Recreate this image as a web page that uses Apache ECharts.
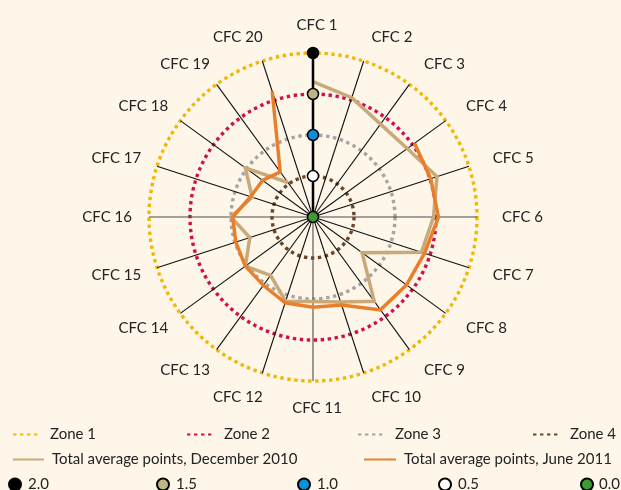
<!DOCTYPE html>
<html>
<head>
<meta charset="utf-8">
<style>
  html, body { margin: 0; padding: 0; background: #fdf6e9; }
  #chart { width: 621px; height: 490px; }
</style>
<script src="https://cdn.jsdelivr.net/npm/echarts@6/dist/echarts.min.js"></script>
</head>
<body>
<div id="chart"></div>
<script>
// Assessment categories, clockwise from the top
const categories = ['CFC 1', 'CFC 2', 'CFC 3', 'CFC 4', 'CFC 5', 'CFC 6', 'CFC 7', 'CFC 8', 'CFC 9', 'CFC 10',
  'CFC 11', 'CFC 12', 'CFC 13', 'CFC 14', 'CFC 15', 'CFC 16', 'CFC 17', 'CFC 18', 'CFC 19', 'CFC 20'];

// Total average points per category (null = not assessed)
const dec2010 = [1.65, 1.53, 1.40, 1.42, 1.59, 1.47, 1.39, 0.74, 1.27, 1.09,
  1.03, 1.08, 0.88, 1.02, 0.81, 1.00, 0.78, 1.02, 0.52, null];
const jun2011 = [null, null, null, 1.53, 1.51, 1.53, 1.43, 1.41, 1.40, 1.13,
  1.10, 1.10, 1.03, 1.02, 0.99, 0.98, 0.80, 0.76, 0.68, 1.61];

// Zone boundaries
const zoneNames = ['Zone 1', 'Zone 2', 'Zone 3', 'Zone 4'];
const zoneLevels = [2.0, 1.5, 1.0, 0.5];

// Scale markers on the first spoke
const markerLabels = ['2.0', '1.5', '1.0', '0.5', '0.0'];
const markerLevels = [2.0, 1.5, 1.0, 0.5, 0.0];

const radiusMax = 2;
const levelStep = 0.5;

// Styling
const zoneColors = ['#f2b705', '#d20f4a', '#a5a5a5', '#6b4429'];
const markerColors = ['#000000', '#bdb582', '#0b90d6', '#ffffff', '#3f9a35'];
const decColor = '#c9a978';
const junColor = '#e97f2b';
const textColor = '#232323';
const font = 'Lato';
const dotDash = [3.4, 3.6];

const CX = 313, CY = 217, R = 164;

// Ring colours follow the radius ticks (0, 0.5, ... 2.0)
const ringColors = [];
for (let v = 0; v <= radiusMax + 1e-9; v += levelStep) {
  const idx = zoneLevels.findIndex(z => Math.abs(z - v) < 1e-9);
  ringColors.push(idx < 0 ? 'rgba(0,0,0,0)' : zoneColors[idx]);
}
// Spoke colours: the four main directions are drawn in dark grey
const spokeColors = categories.map((c, i) => (i % 5 === 0 ? '#4d4d4d' : '#111111'));

// Radar indicators run counter-clockwise, so list them in reverse after the first
const order = [0].concat(categories.map((c, i) => i).slice(1).reverse());

function nameRadar(cx, gap, keep) {
  return {
    center: [cx, CY],
    radius: R,
    startAngle: 90,
    shape: 'circle',
    nameGap: gap,
    indicator: order.map(i => ({ name: keep(i) ? categories[i] : '', max: radiusMax })),
    axisName: { color: textColor, fontFamily: font, fontSize: 15 },
    axisLine: { show: false },
    axisTick: { show: false },
    axisLabel: { show: false },
    splitLine: { show: false },
    splitArea: { show: false },
    silent: true
  };
}

function legendItem(name, left, top, w, h, pad, lineOnly) {
  const item = {
    data: [name],
    left: left,
    top: top,
    itemWidth: w,
    itemHeight: h,
    padding: 0,
    selectedMode: false,
    textStyle: { fontFamily: font, fontSize: 15, color: textColor, padding: [0, 0, 0, pad] }
  };
  if (lineOnly) {
    // keep just the stroke in the key, no symbol
    item.itemStyle = { opacity: 0 };
    item.lineStyle = { opacity: 1 };
  }
  return item;
}

const series = [];

// Zone entries (the rings themselves are the radius split lines)
zoneNames.forEach((name, i) => {
  series.push({
    type: 'line',
    name: name,
    coordinateSystem: 'polar',
    data: [],
    symbol: 'none',
    itemStyle: { color: zoneColors[i] },
    lineStyle: { color: zoneColors[i], width: 3.4, type: dotDash }
  });
});

series.push({
  type: 'line',
  name: 'Total average points, December 2010',
  coordinateSystem: 'polar',
  data: dec2010.map((v, i) => [v === null ? '-' : v, i]),
  symbol: 'none',
  connectNulls: false,
  itemStyle: { color: decColor },
  lineStyle: { color: decColor, width: 3.5, join: 'miter' },
  z: 3
});

series.push({
  type: 'line',
  name: 'Total average points, June 2011',
  coordinateSystem: 'polar',
  data: jun2011.map((v, i) => [v === null ? '-' : v, i]),
  symbol: 'none',
  connectNulls: false,
  itemStyle: { color: junColor },
  lineStyle: { color: junColor, width: 3.5, join: 'miter' },
  z: 4
});

// Bold spoke carrying the scale markers
series.push({
  type: 'line',
  coordinateSystem: 'polar',
  data: markerLevels.map(v => [v, 0]),
  symbol: 'none',
  lineStyle: { color: '#000000', width: 2.5 },
  z: 5
});

markerLabels.forEach((name, i) => {
  series.push({
    type: 'scatter',
    name: name,
    coordinateSystem: 'polar',
    data: [[markerLevels[i], 0]],
    symbol: 'circle',
    symbolSize: 11,
    itemStyle: { color: markerColors[i], borderColor: '#000000', borderWidth: 1.5, opacity: 1 },
    z: 6
  });
});

const legends = [
  legendItem(zoneNames[0], 12, 427, 27, 14, 5, true),
  legendItem(zoneNames[1], 186, 427, 27, 14, 5, true),
  legendItem(zoneNames[2], 357, 427, 27, 14, 5, true),
  legendItem(zoneNames[3], 532, 427, 27, 14, 5, true),
  legendItem('Total average points, December 2010', 12, 452, 31, 14, 3, true),
  legendItem('Total average points, June 2011', 363, 452, 32, 14, 3, true),
  legendItem(markerLabels[0], 8, 477, 12, 12, 2),
  legendItem(markerLabels[1], 156, 477, 12, 12, 2),
  legendItem(markerLabels[2], 297, 477, 12, 12, 2),
  legendItem(markerLabels[3], 438, 477, 12, 12, 2),
  legendItem(markerLabels[4], 580, 477, 12, 12, 1)
];

const chart = echarts.init(document.getElementById('chart'), null, { renderer: 'canvas' });
chart.setOption({
  backgroundColor: '#fdf6e9',
  animation: false,
  polar: { center: [CX, CY], radius: R },
  angleAxis: {
    type: 'value',
    min: 0,
    max: categories.length,
    interval: 1,
    startAngle: 90,
    clockwise: true,
    axisLine: { show: false },
    axisTick: { show: false },
    axisLabel: { show: false },
    splitLine: { show: true, lineStyle: { color: spokeColors, width: 1.1 } }
  },
  radiusAxis: {
    type: 'value',
    min: 0,
    max: radiusMax,
    interval: levelStep,
    axisLine: { show: false },
    axisTick: { show: false },
    axisLabel: { show: false },
    splitLine: { show: true, lineStyle: { color: ringColors, width: 3.4, type: dotDash } }
  },
  radar: [
    nameRadar(CX, 25, i => i >= 1 && i <= 9),
    nameRadar(CX + 8, 25, i => i >= 11),
    nameRadar(CX + 4, 20, i => i === 0 || i === 10)
  ],
  legend: legends,
  series: series
});
</script>
</body>
</html>
